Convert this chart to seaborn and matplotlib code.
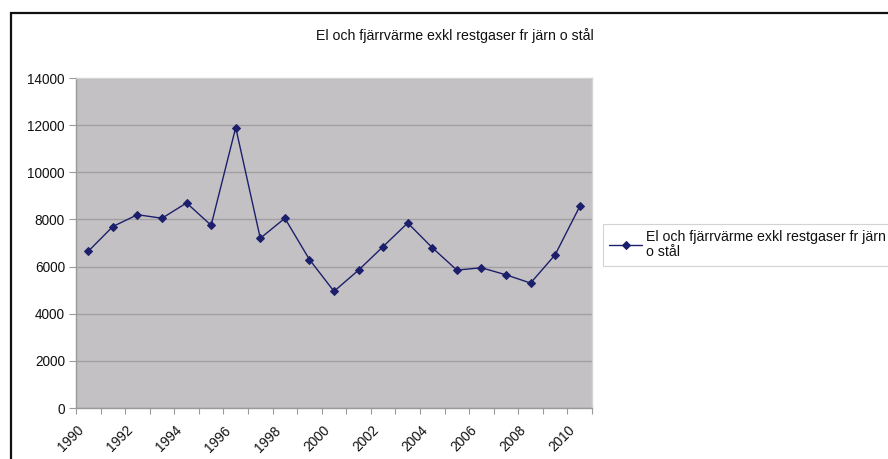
import numpy as np
import pandas as pd
import matplotlib
matplotlib.use("Agg")
import matplotlib.pyplot as plt
import seaborn as sns
from matplotlib.patches import Rectangle

years = list(range(1990, 2011))
values = [6650, 7700, 8200, 8050, 8700, 7750, 11900, 7200, 8050, 6300,
          4950, 5850, 6850, 7850, 6800, 5850, 5950, 5650, 5300, 6500, 8550]
series_name = "El och fjärrvärme exkl restgaser fr järn o stål"
legend_label = "El och fjärrvärme exkl restgaser fr järn\no stål"
y_ticks = [0, 2000, 4000, 6000, 8000, 10000, 12000, 14000]

sns.set_theme(style="white")
plt.rcParams['font.family'] = ['Liberation Sans', 'DejaVu Sans']

W, H = 888, 459
FS = 9.8
fig = plt.figure(figsize=(W / 100, H / 100), dpi=100)
ax = fig.add_axes([76 / W, 1 - 408 / H, (592 - 76) / W, (408 - 78) / H])

df = pd.DataFrame({"pos": np.arange(len(years)) + 0.5, "value": values})
sns.lineplot(data=df, x="pos", y="value", ax=ax, color="#1c1f6b", lw=1.0,
             marker="D", markersize=4.5, markeredgecolor="#1c1f6b",
             label=legend_label)

ax.set_facecolor("#c3c1c3")
ax.set_xlim(0, len(years))
ax.set_ylim(0, 14000)
ax.set_yticks(y_ticks)
ax.set_yticklabels([str(v) for v in y_ticks], fontsize=FS, color="#111111")
ax.yaxis.grid(True, color="#a19fa2", lw=1.0)
ax.set_axisbelow(True)

ax.set_xticks(np.arange(0, len(years) + 1))
ax.set_xticklabels([])
label_offset = -0.47
ax.set_xticks([i + 0.5 + label_offset for i, y in enumerate(years) if y % 2 == 0], minor=True)
ax.set_xticklabels([str(y) for y in years if y % 2 == 0], minor=True,
                   rotation=45, ha="right", va="top", rotation_mode="anchor",
                   fontsize=FS, color="#111111")
ax.tick_params(axis="x", which="major", length=4, color="#9a9a9a", width=0.8, direction="out", bottom=True)
ax.tick_params(axis="x", which="minor", length=0, pad=11, bottom=True)
ax.tick_params(axis="y", length=5, color="#9a9a9a", width=0.8, direction="out", left=True, pad=3)
ax.set_xlabel("")
ax.set_ylabel("")

for side in ["left", "bottom"]:
    ax.spines[side].set_color("#9a9a9a")
    ax.spines[side].set_linewidth(1.0)
for side in ["top", "right"]:
    ax.spines[side].set_color("#d4d4d4")
    ax.spines[side].set_linewidth(1.0)

fig.text(455 / W, 1 - 36 / H, series_name, ha="center", va="center",
         fontsize=10.2, color="#111111")

leg = ax.legend(loc="upper left", bbox_to_anchor=(603 / W, 1 - 224 / H),
                bbox_transform=fig.transFigure, fontsize=10.2, frameon=True,
                fancybox=False, borderpad=0.45, handlelength=2.3,
                handletextpad=0.25, labelspacing=0.2, borderaxespad=0)
leg.get_frame().set_edgecolor("#c8c8c8")
leg.get_frame().set_linewidth(0.8)
for t in leg.get_texts():
    t.set_color("#111111")
    t.set_linespacing(1.1)

fig.patches.append(Rectangle((10.5 / W, -0.2), 2.0, 1.2 - 13.5 / H,
                             transform=fig.transFigure, fill=False,
                             edgecolor="#111111", lw=1.6, clip_on=False))

fig.savefig("out.png", dpi=100, facecolor="white")
